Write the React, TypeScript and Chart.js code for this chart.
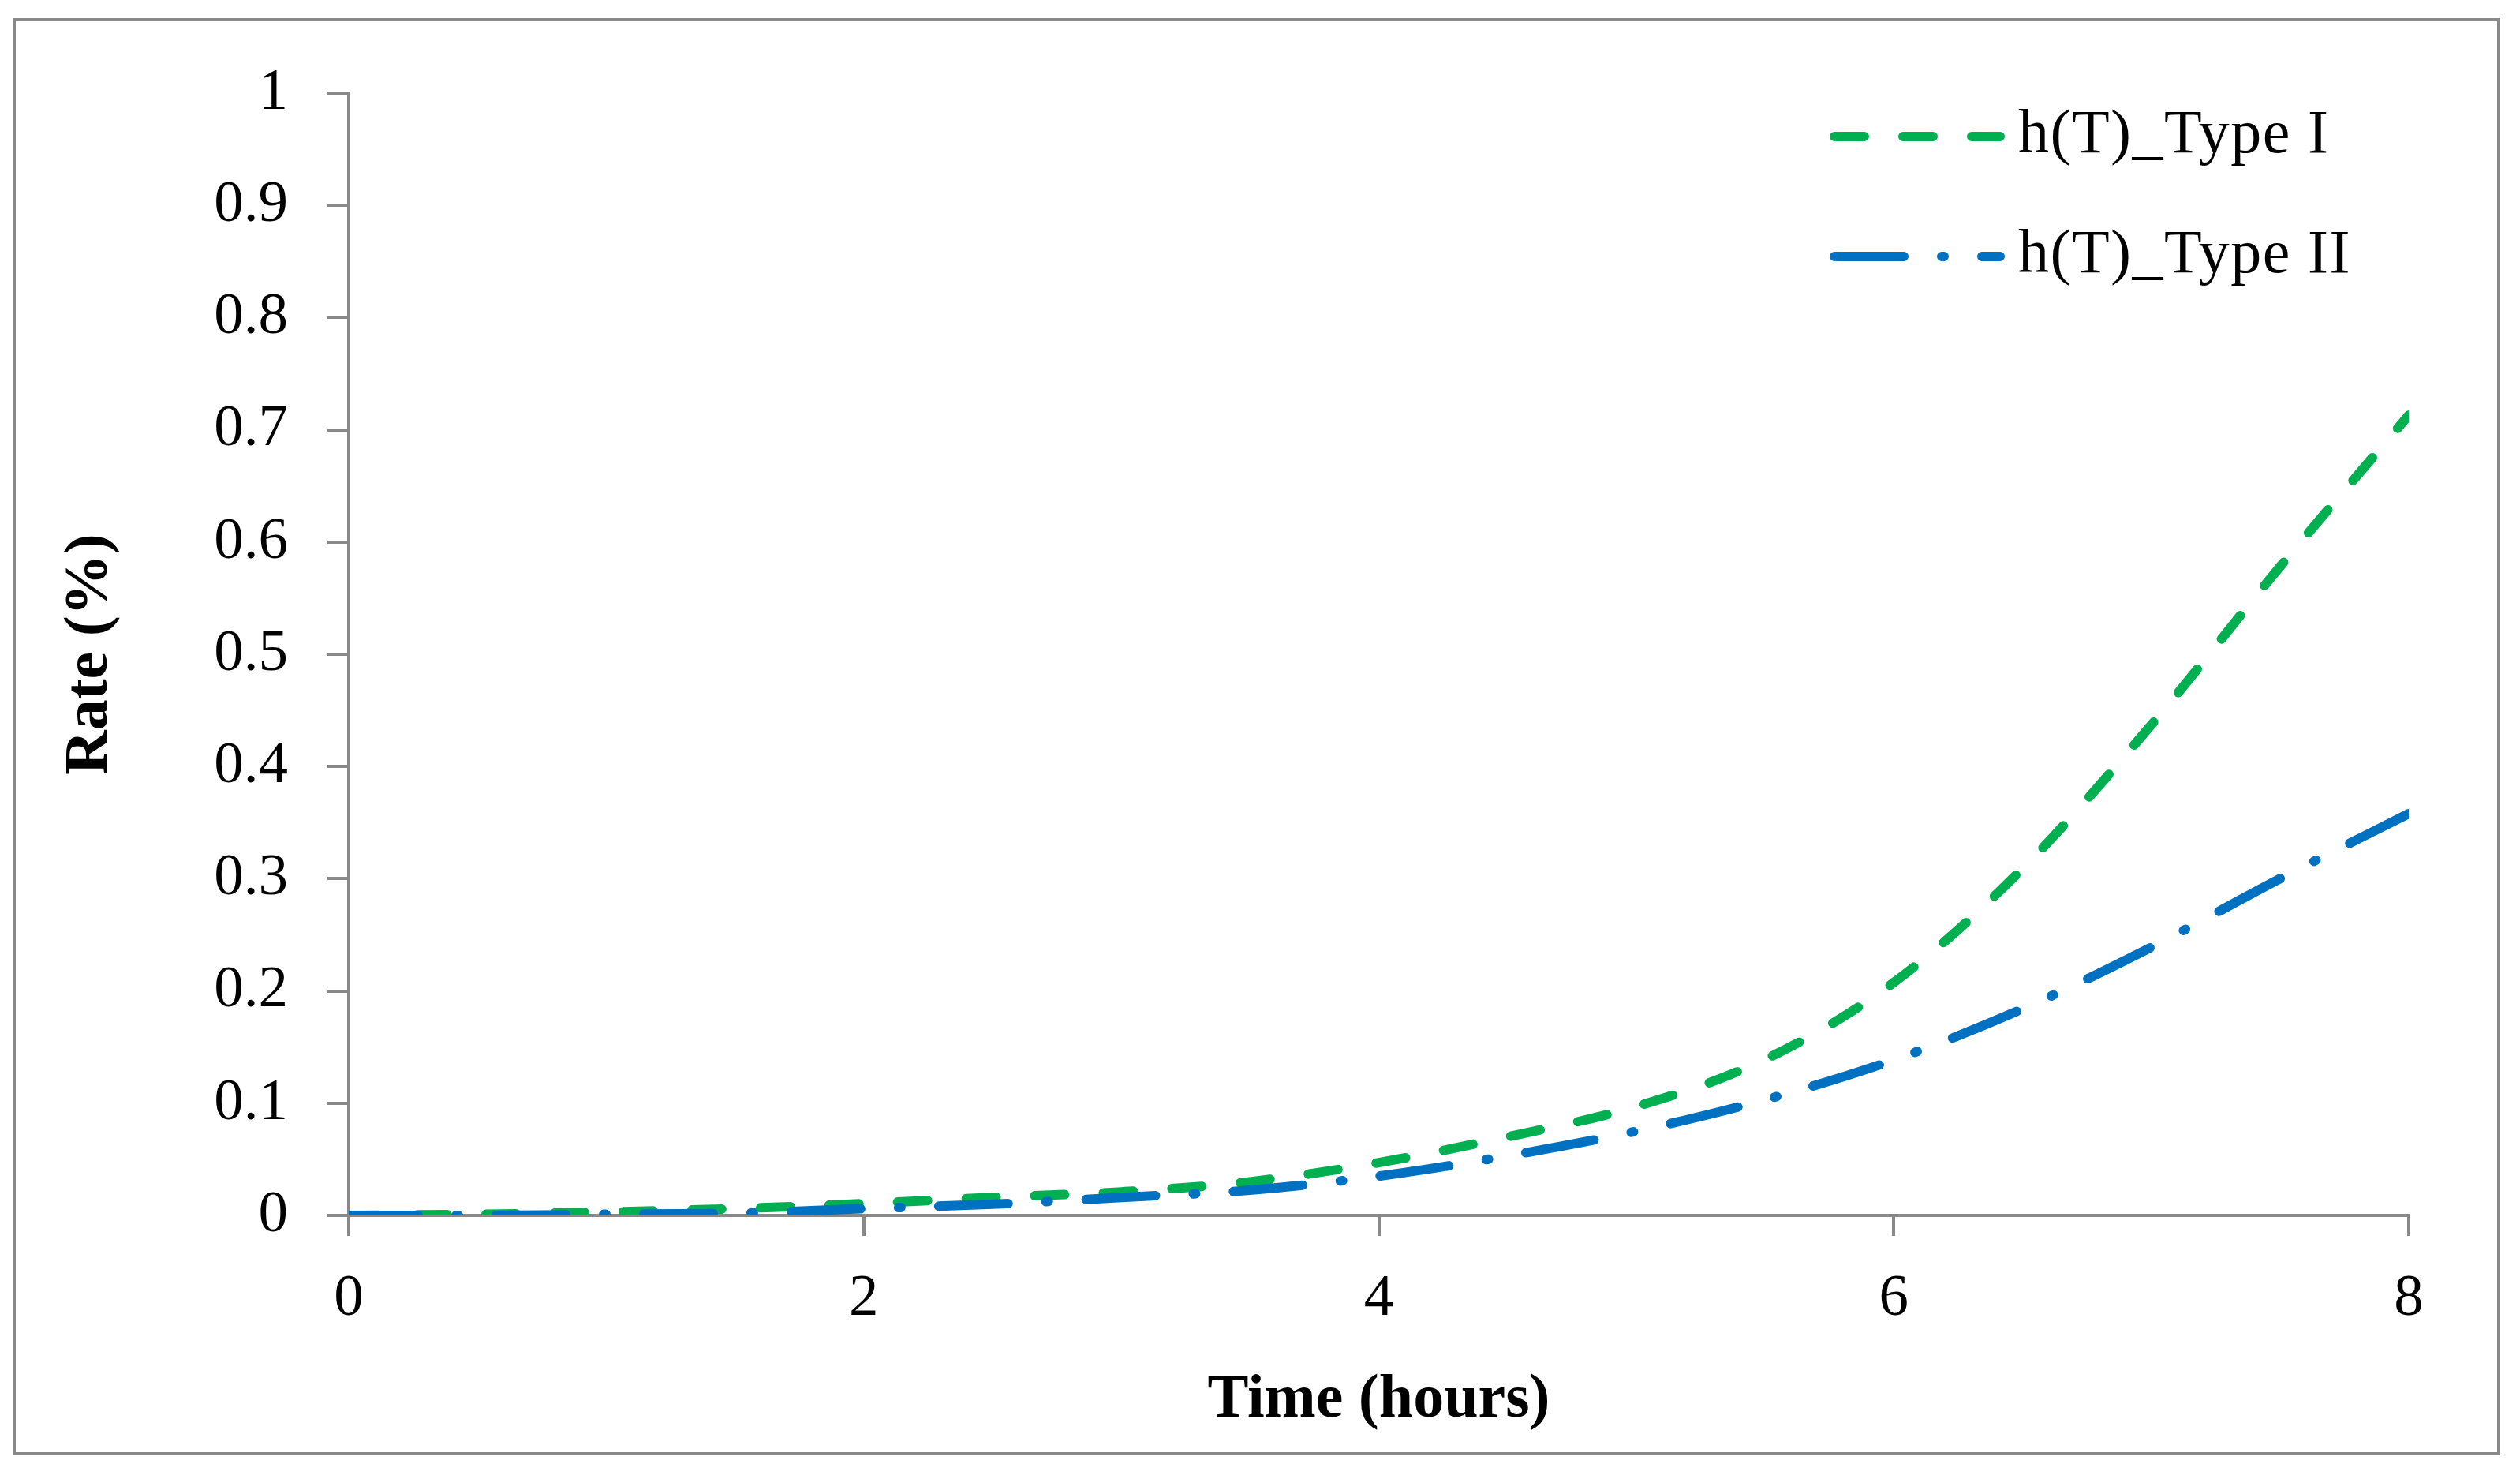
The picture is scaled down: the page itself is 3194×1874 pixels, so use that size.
import React, { useEffect, useRef } from "react";
import { Chart, registerables } from "chart.js";

Chart.register(...registerables);

// ---- data ----
const timeHours = [0, 0.5, 1, 1.5, 2, 2.5, 3, 3.5, 4, 4.5, 5, 5.5, 6, 6.5, 7, 7.5, 8];
const typeIValues = [0, 0.001, 0.003, 0.006, 0.0105, 0.016, 0.021, 0.03, 0.047, 0.07, 0.097, 0.139, 0.2075, 0.309, 0.437, 0.578, 0.713];
const typeIIValues = [0, 0, 0.001, 0.002, 0.006, 0.01, 0.016, 0.0225, 0.035, 0.053, 0.075, 0.103, 0.1385, 0.184, 0.239, 0.3, 0.358];
const seriesLabels = ["h(T)_Type I", "h(T)_Type II"];
const xTickValues = [0, 2, 4, 6, 8];
const xTickLabels = ["0", "2", "4", "6", "8"];
const yTickValues = [0, 0.1, 0.2, 0.3, 0.4, 0.5, 0.6, 0.7, 0.8, 0.9, 1];
const yTickLabels = ["0", "0.1", "0.2", "0.3", "0.4", "0.5", "0.6", "0.7", "0.8", "0.9", "1"];
const xAxisTitle = "Time (hours)";
const yAxisTitle = "Rate (%)";

// ---- styles ----
const W = 3194;
const H = 1874;
const FONT = "'Liberation Serif', 'Times New Roman', serif";
const FONT_SIZE = 75;
const TITLE_SIZE = 78;
const LEGEND_SIZE = 78;
const AXIS_GRAY = "#898989";
const GREEN = "#00B050";
const BLUE = "#0070C0";
const LINE_W = 12;
const GREEN_DASH = [38, 49];
const BLUE_DASH = [88, 48, 3, 48];

export default function App() {
  const canvasRef = useRef<HTMLCanvasElement | null>(null);

  useEffect(() => {
    document.body.style.margin = "0";
    const canvas = canvasRef.current;
    if (!canvas) return;

    const frame = {
      id: "frame",
      beforeDraw(chart: any) {
        const ctx = chart.ctx;
        ctx.save();
        ctx.fillStyle = "#ffffff";
        ctx.fillRect(0, 0, W, H);
        ctx.strokeStyle = AXIS_GRAY;
        ctx.lineWidth = 4;
        ctx.strokeRect(18, 25, 3167 - 18, 1842 - 25);
        ctx.restore();
      },
    };

    const legend = {
      id: "customLegend",
      afterDraw(chart: any) {
        const ctx = chart.ctx;
        const rows = [173, 325];
        chart.data.datasets.forEach((ds: any, i: number) => {
          const y = rows[i];
          ctx.save();
          ctx.strokeStyle = ds.borderColor;
          ctx.lineWidth = ds.borderWidth;
          ctx.lineCap = "round";
          ctx.setLineDash(ds.borderDash);
          ctx.beginPath();
          ctx.moveTo(2325, y);
          ctx.lineTo(2535, y);
          ctx.stroke();
          ctx.setLineDash([]);
          ctx.fillStyle = "#000";
          ctx.font = `${LEGEND_SIZE}px ${FONT}`;
          try {
            (ctx as any).letterSpacing = "1.5px";
          } catch (e) {}
          ctx.textBaseline = "middle";
          ctx.textAlign = "left";
          ctx.fillText(ds.label, 2558, y);
          ctx.restore();
        });
      },
    };

    const chart = new Chart(canvas, {
      type: "line",
      data: {
        datasets: [
          {
            label: seriesLabels[0],
            data: timeHours.map((t, i) => ({ x: t, y: typeIValues[i] })),
            borderColor: GREEN,
            backgroundColor: GREEN,
            borderWidth: LINE_W,
            borderDash: GREEN_DASH,
            borderCapStyle: "round",
            pointRadius: 0,
            cubicInterpolationMode: "monotone",
            fill: false,
            order: 1,
          },
          {
            label: seriesLabels[1],
            data: timeHours.map((t, i) => ({ x: t, y: typeIIValues[i] })),
            borderColor: BLUE,
            backgroundColor: BLUE,
            borderWidth: LINE_W,
            borderDash: BLUE_DASH,
            borderCapStyle: "round",
            pointRadius: 0,
            cubicInterpolationMode: "monotone",
            fill: false,
            order: 0,
          },
        ],
      },
      options: {
        responsive: false,
        maintainAspectRatio: false,
        devicePixelRatio: 1,
        animation: false,
        events: [],
        layout: { padding: { left: 0, right: 141, top: 118, bottom: 0 } },
        plugins: {
          legend: { display: false },
          tooltip: { enabled: false },
          title: { display: false },
        },
        scales: {
          x: {
            type: "linear",
            min: 0,
            max: 8,
            afterFit(scale: any) {
              scale.height = H - 1540;
            },
            afterBuildTicks(scale: any) {
              scale.ticks = xTickValues.map((v) => ({ value: v }));
            },
            grid: {
              display: true,
              drawOnChartArea: false,
              drawTicks: true,
              tickLength: 26,
              color: AXIS_GRAY,
              lineWidth: 4,
            },
            border: { display: true, color: AXIS_GRAY, width: 4 },
            ticks: {
              color: "#000",
              padding: 35,
              maxRotation: 0,
              autoSkip: false,
              font: { family: FONT, size: FONT_SIZE },
              callback: (_v: any, i: number) => xTickLabels[i],
            },
            title: {
              display: true,
              text: xAxisTitle,
              color: "#000",
              font: { family: FONT, size: TITLE_SIZE, weight: "bold" },
              padding: { top: 0, bottom: 52 },
            },
          },
          y: {
            type: "linear",
            min: 0,
            max: 1,
            afterFit(scale: any) {
              scale.width = 442;
            },
            afterBuildTicks(scale: any) {
              scale.ticks = yTickValues.map((v) => ({ value: v }));
            },
            grid: {
              display: true,
              drawOnChartArea: false,
              drawTicks: true,
              tickLength: 27,
              color: AXIS_GRAY,
              lineWidth: 4,
            },
            border: { display: true, color: AXIS_GRAY, width: 4 },
            ticks: {
              color: "#000",
              padding: 50,
              autoSkip: false,
              font: { family: FONT, size: FONT_SIZE },
              callback: (_v: any, i: number) => yTickLabels[i],
            },
            title: {
              display: true,
              text: yAxisTitle,
              color: "#000",
              font: { family: FONT, size: TITLE_SIZE, weight: "bold" },
              padding: { top: 68, bottom: 0 },
            },
          },
        },
      },
      plugins: [frame, legend],
    } as any);

    return () => chart.destroy();
  }, []);

  return (
    <div style={{ width: W, height: H, background: "#fff" }}>
      <canvas ref={canvasRef} width={W} height={H} style={{ display: "block", width: W, height: H }} />
    </div>
  );
}
